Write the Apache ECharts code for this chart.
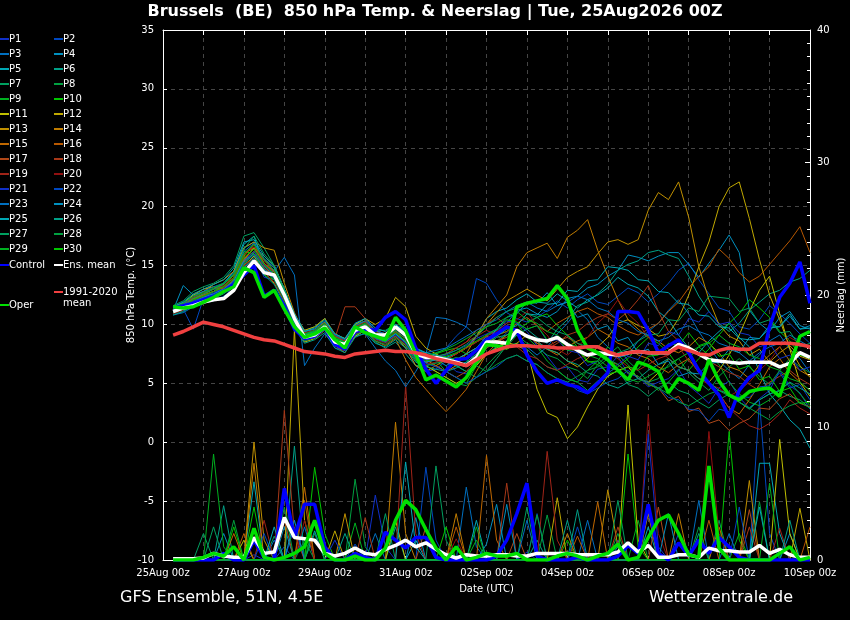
<!DOCTYPE html>
<html>
<head>
<meta charset="utf-8">
<script src="https://cdn.jsdelivr.net/npm/echarts@6/dist/echarts.min.js"></script>
<style>
html,body{margin:0;padding:0;background:#000;}
#chart{width:850px;height:620px;}
</style>
</head>
<body>
<div id="chart"></div>
<script>
// forecast hours (6-hourly, 25Aug 06z .. 10Sep 00z)
const HOURS = [6,12,18,24,30,36,42,48,54,60,66,72,78,84,90,96,
  102,108,114,120,126,132,138,144,150,156,162,168,174,180,186,192,
  198,204,210,216,222,228,234,240,246,252,258,264,270,276,282,288,
  294,300,306,312,318,324,330,336,342,348,354,360,366,372,378,384];
const X_LABELS = ['25Aug 00z','27Aug 00z','29Aug 00z','31Aug 00z','02Sep 00z','04Sep 00z','06Sep 00z','08Sep 00z','10Sep 00z'];

// main lines, 850 hPa temperature (°C)
const CTRL_T = [11.4,11.6,11.8,12.1,12.4,12.8,13.4,14.2,15.0,12.4,12.9,11.6,9.6,8.8,9.0,9.7,
  8.3,7.9,9.4,9.6,9.5,10.6,11.1,10.4,8.0,6.2,5.0,6.1,7.0,7.1,7.8,8.7,
  9.2,9.8,9.5,7.4,6.0,5.0,5.3,4.9,4.7,4.2,5.0,5.9,11.1,11.1,11.0,9.5,
  7.6,8.2,8.7,7.6,6.1,5.0,4.0,2.1,4.4,5.5,6.1,9.8,12.3,13.5,15.3,11.8];
const MEAN_T = [11.1,11.4,11.6,11.9,12.1,12.2,12.9,14.4,15.4,14.4,14.2,12.5,10.5,8.9,9.1,9.8,
  8.5,8.3,9.5,9.8,9.1,9.1,9.8,9.1,7.5,7.2,7.2,7.0,6.8,6.5,7.2,8.5,
  8.5,8.4,9.5,9.0,8.7,8.6,8.9,8.3,7.8,7.4,7.6,7.5,7.4,7.6,7.7,7.6,
  7.6,7.6,8.3,8.0,7.5,7.0,6.9,6.8,6.7,6.8,6.8,6.8,6.4,6.7,7.6,7.2];
const OPER_T = [11.5,11.4,11.5,11.9,12.3,12.8,13.2,14.8,14.4,12.3,12.9,11.3,9.8,8.9,9.2,9.7,
  8.7,8.0,9.8,9.3,9.0,8.7,10.6,9.5,7.5,5.3,5.7,5.2,4.7,5.5,6.8,8.3,
  8.2,8.0,11.5,11.8,12.0,12.2,13.3,12.2,9.5,8.0,7.6,7.0,6.1,5.3,6.8,6.5,
  6.0,4.2,5.4,5.0,4.4,7.0,5.2,4.0,3.6,4.3,4.5,4.6,3.9,6.5,9.0,9.4];
const CLIM_T = [9.1,9.4,9.8,10.2,10.0,9.8,9.5,9.2,8.9,8.7,8.6,8.3,8.0,7.7,7.6,7.5,
  7.3,7.2,7.5,7.6,7.7,7.8,7.7,7.7,7.6,7.4,7.1,6.9,6.7,6.5,7.0,7.5,
  7.8,8.1,8.2,8.2,8.1,8.1,8.0,8.0,8.0,8.1,8.1,7.7,7.4,7.6,7.7,7.6,
  7.6,7.6,8.1,7.8,7.5,7.4,7.8,8.0,7.9,7.9,8.4,8.4,8.4,8.4,8.3,8.1];

// main lines, precipitation (mm / 6h)
const CTRL_R = [0,0,0,0,0,0.5,0,0,1.5,0.2,0,5.4,1.7,4.2,4.2,1.0,
  0,0,0.5,0.2,0,2.1,1.5,0.9,1.7,1.7,0.2,0,0,0,0,0,
  0.3,1.5,3.5,5.8,0.3,0,0,0,0.2,0,0,0,0.3,1.1,0.5,4.2,
  0.5,0,1.3,0.3,1.5,0.5,1.7,1.0,0.2,0,0,0,0,0,0,0];
const MEAN_R = [0.1,0.1,0.1,0.15,0.5,0.3,0.2,0.2,1.7,0.5,0.6,3.2,1.7,1.6,1.5,0.5,
  0.3,0.5,0.9,0.5,0.4,0.8,1.1,1.5,1.0,1.3,0.8,0.4,0.15,0.4,0.3,0.3,
  0.4,0.4,0.3,0.3,0.5,0.5,0.5,0.5,0.4,0.4,0.4,0.4,0.6,1.3,0.6,1.1,
  0.2,0.2,0.4,0.4,0.2,0.9,0.7,0.7,0.6,0.6,1.1,0.5,0.8,0.4,0.2,0.2];
const OPER_R = [0,0,0,0.2,0.5,0.3,1.0,0,2.4,0.2,0,0.2,0.5,1.0,3.0,0.5,
  0,0,0.3,0,0,0.9,3.0,4.5,3.8,2.3,0.9,0,1.0,0,0.2,0.5,
  0.3,0.3,0.5,0,0,0,0.3,0.5,0.3,0,0.3,0.5,1.2,0,0.2,1.7,
  3.0,3.4,2.0,0.4,0.2,7.1,0.9,0,0,0,0,0,0.5,1.0,0,0.2];

// perturbations, temperature
const P01_T = [11.0,11.3,11.8,12.0,12.3,12.1,13.5,15.2,16.0,14.0,13.8,12.0,10.0,8.5,9.0,9.6,
  8.0,7.8,9.2,9.5,8.8,8.5,9.0,8.0,6.5,6.0,6.2,6.9,6.0,5.8,6.8,8.0,
  8.5,9.3,10.1,9.4,8.2,7.3,6.2,6.4,5.3,5.1,6.2,6.4,7.3,5.8,5.6,4.7,
  5.1,5.4,6.2,4.8,4.1,3.3,4.6,5.2,3.8,2.9,3.7,4.4,6.1,4.8,4.2,2.8];
const P02_T = [11.5,11.8,12.2,12.5,12.8,13.0,13.8,15.5,16.5,15.0,14.5,13.0,10.5,9.0,9.5,10.0,
  9.0,8.5,10.0,10.5,9.5,9.0,9.8,9.5,8.0,7.0,7.5,8.0,9.0,9.8,13.9,13.5,
  12.1,11.0,10.5,10.2,10.6,11.2,12.0,11.4,12.1,12.6,11.9,11.7,12.4,13.1,12.7,11.9,
  12.6,13.5,14.6,15.2,13.8,12.6,11.4,11.1,9.8,9.6,10.4,11.6,10.9,10.1,9.2,8.4];
const P03_T = [10.8,11.0,11.5,11.8,12.0,12.4,13.0,14.8,15.8,14.5,14.5,15.7,14.2,6.5,8.0,9.2,
  8.2,7.8,9.0,9.2,8.0,6.9,6.1,4.7,6.0,7.5,10.6,10.5,10.2,9.8,9.0,8.5,
  8.0,8.6,9.1,8.1,7.4,8.1,9.2,10.1,11.2,10.4,8.9,8.1,7.2,7.4,8.6,9.4,
  10.1,11.2,12.1,10.9,9.4,8.1,6.9,6.1,5.4,6.6,7.4,8.6,9.1,7.9,7.1,5.9];
const P04_T = [11.2,13.3,12.5,12.3,12.8,13.5,14.5,16.5,17.0,15.5,14.5,12.5,10.5,9.2,9.4,10.2,
  8.8,8.5,9.8,10.0,9.5,9.0,10.0,9.5,8.0,7.5,7.0,6.5,7.0,7.5,8.0,9.0,
  9.5,10.1,11.2,11.4,10.9,10.6,11.1,12.2,12.4,13.1,13.4,14.1,14.6,15.9,15.7,15.4,
  15.8,16.1,16.1,15.1,14.0,15.2,16.3,17.6,16.1,11.2,10.1,9.4,10.6,11.1,9.9,9.6];
const P05_T = [11.4,11.8,12.5,12.8,13.0,13.5,14.5,16.8,17.5,15.0,14.0,12.5,10.0,8.8,9.2,9.8,
  8.6,8.4,9.5,9.8,9.0,8.8,9.2,8.5,7.0,6.8,7.0,7.2,7.5,8.0,9.0,10.5,
  11.1,11.4,12.1,12.6,11.9,11.8,12.6,12.0,11.4,12.1,12.5,13.1,14.0,13.4,13.1,12.4,
  11.1,10.4,9.1,8.0,7.6,8.6,9.4,10.1,8.9,8.1,6.0,4.1,3.1,1.9,1.1,-0.5];
const P06_T = [10.9,11.2,11.7,12.0,12.5,13.0,13.8,15.5,16.5,15.5,14.8,12.8,10.5,9.0,9.0,9.5,
  8.5,8.0,9.0,9.5,8.5,8.0,8.5,7.5,6.5,6.5,6.8,7.0,6.5,6.0,6.5,7.5,
  8.1,8.4,9.1,9.6,8.9,8.4,9.6,10.4,11.6,11.9,12.6,13.4,14.6,15.1,15.4,16.1,
  16.3,15.9,15.6,14.1,12.4,11.1,10.1,9.4,10.1,11.2,11.9,12.6,12.9,13.6,13.9,14.6];
const P07_T = [11.6,12.0,12.8,13.2,13.5,14.0,15.0,17.5,17.8,16.5,15.0,13.0,10.8,9.5,9.8,10.5,
  9.0,8.8,10.0,10.3,9.5,9.5,10.0,9.0,7.5,7.0,7.5,7.0,6.5,6.0,5.5,6.0,
  7.1,8.2,8.4,7.9,7.1,6.4,6.1,5.4,5.1,4.4,5.2,5.6,6.1,4.9,4.6,3.9,
  4.6,5.1,4.4,4.1,3.4,2.9,3.6,4.1,3.4,2.8,3.6,4.1,4.4,3.9,3.6,2.9];
const P08_T = [11.0,11.4,12.0,12.2,12.6,12.8,13.5,15.0,16.2,14.8,14.0,12.2,10.0,8.6,9.0,9.8,
  8.5,8.0,9.5,10.0,9.0,8.8,9.5,8.5,7.0,6.5,6.0,5.5,5.0,4.8,5.5,6.5,
  7.4,8.1,9.1,8.4,8.1,7.4,7.1,6.4,6.1,5.4,6.6,7.4,8.1,6.9,6.1,5.1,
  5.4,6.6,7.1,5.9,5.1,4.4,5.6,6.4,7.1,6.4,5.6,4.9,6.1,7.1,6.4,5.9];
const P09_T = [11.3,11.6,12.2,12.5,13.0,13.2,14.0,16.0,16.8,15.2,14.2,12.6,10.2,9.2,9.3,10.0,
  8.8,8.2,9.8,10.2,9.2,9.0,9.6,9.0,7.8,7.5,7.0,6.0,5.5,5.0,6.5,8.0,
  9.1,9.4,10.1,8.9,8.1,6.9,6.1,5.4,5.1,6.1,6.9,8.1,7.4,6.6,5.4,5.1,
  4.4,5.1,6.1,7.1,8.1,7.4,6.6,5.1,4.1,3.4,3.1,3.6,4.4,5.1,4.1,3.1];
const P10_T = [11.2,11.5,12.0,12.4,12.8,13.2,14.2,16.2,16.0,14.2,13.8,12.4,10.4,9.0,9.4,10.0,
  8.8,8.4,9.6,10.0,9.2,9.0,9.4,8.8,7.5,7.2,7.5,7.8,8.0,7.5,7.0,8.0,
  8.6,9.1,9.4,10.1,10.6,10.9,9.9,9.1,8.1,6.9,6.6,5.9,6.4,7.1,8.1,8.9,
  8.4,7.6,6.4,6.1,7.1,7.9,9.1,10.1,10.9,12.1,11.4,10.6,9.4,8.6,7.4,7.1];
const P11_T = [11.0,11.2,11.8,12.0,12.4,12.8,13.5,15.0,15.8,14.5,13.5,12.0,10.2,8.5,8.8,9.5,
  8.2,7.8,9.0,9.5,8.8,8.5,9.0,8.2,7.0,6.5,6.0,5.5,5.0,5.5,6.5,7.5,
  8.0,8.5,8.2,7.8,4.5,2.5,2.1,0.3,1.3,3.0,4.5,5.6,6.1,6.4,5.4,5.1,
  5.9,7.1,6.4,6.1,5.4,5.1,6.1,7.4,9.1,11.1,12.9,14.1,10.9,7.9,5.1,3.9];
const P12_T = [11.5,11.8,12.5,13.0,13.2,13.0,13.8,15.5,16.5,15.8,15.0,13.0,10.8,9.5,9.8,10.5,
  9.2,8.8,10.0,10.5,10.0,10.5,12.3,11.5,9.0,8.0,7.5,7.0,7.5,8.0,8.5,9.0,
  8.6,7.9,8.4,9.1,8.4,7.9,7.6,6.9,6.4,7.1,8.1,8.9,10.1,10.4,9.9,9.6,
  9.0,9.2,10.5,12.5,14.9,17.0,20.0,21.6,22.1,19.0,15.5,12.5,10.4,8.0,6.5,5.5];
const P13_T = [11.2,11.6,12.3,12.8,13.4,13.8,14.5,16.5,17.0,16.5,16.3,13.5,11.0,9.2,9.0,9.5,
  8.5,8.0,9.5,10.0,9.0,8.5,9.0,8.0,6.5,6.0,6.5,7.0,7.5,8.0,9.0,10.0,
  11.0,12.0,12.5,13.0,12.5,12.0,13.0,14.0,14.5,14.9,16.0,17.0,17.2,16.8,17.2,19.7,
  21.2,20.6,22.1,19.1,14.9,12.1,10.0,9.0,8.6,7.4,7.9,6.8,7.6,8.2,7.3,7.0];
const P14_T = [11.4,11.7,12.2,12.6,13.0,13.4,14.2,16.0,16.5,15.2,14.5,12.8,10.6,9.4,9.6,10.2,
  9.0,8.6,9.8,10.3,9.5,9.2,9.8,9.0,7.5,7.0,6.5,6.0,6.5,7.5,9.0,10.5,
  11.5,12.5,14.9,16.1,16.5,16.9,15.6,17.4,18.0,18.9,16.3,14.1,12.1,10.4,9.6,8.9,
  8.6,7.9,7.6,8.1,8.9,8.4,7.6,6.4,6.1,5.4,6.6,7.4,8.1,6.9,6.1,5.6];
const P15_T = [11.0,11.3,11.9,12.2,12.5,13.0,13.5,15.5,16.2,15.0,14.0,12.2,10.0,8.7,9.0,9.6,
  8.2,7.6,9.2,9.6,8.6,8.2,8.8,7.0,5.5,4.5,3.5,2.6,3.5,4.5,6.0,7.5,
  8.4,9.1,9.6,8.9,8.6,7.9,7.4,8.1,8.6,8.9,9.6,9.1,8.4,8.1,7.4,7.1,
  6.4,5.9,6.6,7.1,5.9,4.9,4.1,2.9,2.4,3.6,4.9,6.4,7.1,5.9,5.1,4.4];
const P16_T = [11.3,11.6,12.1,12.5,12.8,13.2,14.0,15.8,16.8,15.5,14.8,12.8,10.4,9.0,9.3,10.0,
  8.7,8.3,9.6,10.0,9.0,8.6,9.2,8.5,7.2,6.8,7.0,7.2,7.0,7.5,8.0,8.5,
  9.1,9.4,10.1,10.6,9.9,9.4,10.1,10.6,11.1,11.4,10.9,10.6,9.9,9.4,9.1,9.6,
  10.1,11.1,11.9,13.1,14.1,14.9,16.4,15.6,14.4,13.6,14.1,15.1,16.1,17.1,18.3,16.1];
const P17_T = [11.0,11.4,12.0,12.3,12.6,13.0,13.6,15.3,16.0,14.8,14.0,12.3,10.1,8.8,9.1,9.7,
  8.4,8.0,9.4,9.8,8.9,8.6,9.3,8.6,7.2,6.8,6.5,6.0,5.5,6.0,7.0,8.0,
  8.6,8.9,9.6,9.1,8.4,8.1,8.6,8.9,8.4,7.9,7.6,6.9,6.6,5.9,5.6,4.9,
  4.6,3.5,3.9,2.6,2.9,1.6,1.9,1.0,1.6,2.0,2.9,2.8,3.7,4.1,3.3,3.0];
const P18_T = [11.1,11.5,12.0,12.4,12.8,13.1,13.8,15.6,16.4,15.2,14.4,12.6,10.3,9.0,9.2,9.8,
  8.8,11.5,11.5,10.5,9.0,8.7,9.4,8.8,7.4,7.0,7.2,7.5,8.0,8.5,9.5,10.0,
  10.6,9.9,9.6,8.9,8.6,7.9,8.4,9.1,9.4,10.1,10.6,10.9,10.4,11.1,12.1,13.3,
  11.1,9.4,8.6,7.9,7.6,6.9,6.4,5.9,5.6,4.9,4.4,5.1,5.6,6.1,5.4,4.9];
const P19_T = [11.3,11.7,12.3,12.7,13.0,13.3,14.0,16.0,16.6,15.4,14.6,12.9,10.7,9.3,9.5,10.1,
  9.0,8.6,9.8,10.2,9.4,9.0,9.6,9.0,7.8,7.4,7.0,7.5,8.0,8.5,9.0,9.5,
  9.1,8.4,8.1,7.4,7.1,6.4,6.1,6.6,7.1,7.4,8.1,7.6,7.1,6.4,6.1,6.6,
  7.1,7.4,8.1,6.9,6.1,4.9,4.1,2.9,2.1,1.4,1.1,1.6,2.4,3.6,2.9,2.4];
const P20_T = [10.9,11.2,11.8,12.1,12.4,12.7,13.4,15.0,15.6,14.4,13.6,12.0,9.9,8.6,8.9,9.5,
  8.2,7.9,9.2,9.6,8.7,8.4,9.0,8.3,7.0,6.6,6.8,7.0,7.5,8.0,8.5,9.0,
  9.4,10.1,10.4,11.1,9.9,9.1,7.9,7.4,8.1,8.9,10.1,10.9,12.1,10.9,10.1,8.9,
  7.9,7.1,6.4,6.1,5.4,4.9,4.6,3.9,4.4,5.1,6.1,6.9,8.1,8.9,8.4,7.9];
const P21_T = [11.2,11.5,12.0,12.3,12.7,13.0,13.7,15.4,16.2,15.0,14.2,12.5,10.3,8.9,9.2,9.8,
  8.6,8.2,9.4,9.8,9.0,8.7,9.2,8.6,7.3,7.0,7.2,7.4,7.8,8.2,8.8,9.2,
  9.6,10.3,10.1,9.6,9.9,8.6,8.7,7.8,7.6,6.5,6.9,5.8,6.6,7.3,7.0,8.4,
  8.2,9.4,9.1,10.5,10.2,11.1,10.0,10.2,9.3,9.1,8.1,8.4,7.1,7.4,6.1,6.4];
const P22_T = [11.0,11.3,9.6,12.2,12.6,12.9,13.6,15.2,15.9,14.6,13.9,12.2,10.1,8.7,9.0,9.6,
  8.3,8.0,9.3,9.7,8.8,8.5,9.1,8.4,7.1,6.7,6.4,6.0,5.5,5.0,5.5,6.0,
  6.4,7.1,7.4,6.9,6.6,5.9,5.4,5.1,4.4,4.1,4.6,5.1,5.4,6.1,5.4,5.1,
  4.6,3.8,3.6,2.8,2.7,1.8,2.8,2.6,3.9,3.8,4.7,4.8,5.9,4.6,4.9,3.6];
const P23_T = [11.4,11.7,12.4,12.8,13.2,13.5,14.3,16.2,16.9,15.6,14.8,13.0,10.8,9.4,9.6,10.3,
  9.1,8.7,9.9,10.3,9.5,9.2,9.8,9.2,7.9,7.6,7.8,8.0,8.5,9.0,9.5,10.0,
  10.4,11.1,11.6,11.9,11.4,11.1,11.6,11.9,12.4,12.1,11.4,11.1,10.4,10.1,9.4,9.1,
  8.6,8.9,9.6,9.9,9.4,9.1,8.4,8.1,7.6,6.9,7.6,8.1,8.4,9.1,8.6,8.1];
const P24_T = [11.1,11.4,11.9,12.3,12.6,13.0,13.7,15.4,16.0,14.7,14.0,12.4,10.2,8.8,9.1,9.7,
  8.4,8.1,9.3,9.7,8.9,8.6,9.2,8.5,7.2,6.8,7.0,6.8,6.5,6.8,7.5,8.5,
  9.6,10.6,10.9,11.9,11.8,12.7,11.6,11.9,10.6,10.9,9.6,9.9,8.6,8.9,7.6,7.9,
  6.6,6.9,5.6,5.9,5.8,6.7,6.8,7.9,7.6,8.9,8.8,9.9,9.8,10.7,9.6,9.9];
const P25_T = [11.5,11.9,12.6,13.0,13.4,13.8,14.8,17.0,17.2,15.8,14.9,13.0,10.9,9.4,9.7,10.4,
  9.2,8.8,10.1,10.5,9.7,9.4,10.0,9.3,8.0,7.6,7.4,7.2,7.0,7.5,8.0,8.5,
  9.0,9.6,9.9,10.9,10.8,11.7,11.8,12.9,12.8,13.7,13.8,14.9,14.8,14.6,13.8,13.7,
  12.8,12.7,11.8,11.7,10.8,10.7,9.8,9.7,8.8,8.7,8.8,9.7,9.8,10.9,9.6,9.7];
const P26_T = [10.8,11.1,11.6,11.9,12.2,12.6,13.2,14.8,15.6,14.2,13.4,11.8,9.7,8.4,8.7,9.3,
  8.0,7.6,8.9,9.3,8.4,8.1,8.7,8.0,6.8,6.4,6.2,6.0,6.3,6.8,7.5,8.2,
  8.9,9.1,9.6,8.9,8.6,7.9,7.6,6.9,6.6,5.9,5.6,4.9,4.6,5.1,5.4,6.1,
  6.6,7.1,6.4,6.1,5.4,5.1,4.4,4.1,3.4,2.9,3.6,4.1,4.4,5.1,4.6,4.1];
const P27_T = [11.3,11.6,12.2,12.6,13.0,13.4,14.3,16.4,17.5,16.0,15.0,13.0,10.6,9.1,9.4,10.0,
  8.7,8.3,9.6,10.0,9.2,8.9,9.5,8.8,7.5,7.1,7.3,7.5,7.8,8.3,9.0,9.8,
  10.6,11.1,11.4,10.9,10.6,9.9,9.4,9.1,8.4,8.1,7.4,7.1,7.6,7.9,8.6,9.1,
  9.2,10.4,10.3,11.4,11.1,12.4,12.3,12.2,11.1,11.4,10.1,10.4,9.3,9.4,8.1,8.4];
const P28_T = [11.0,11.3,11.9,12.2,12.5,12.9,13.5,15.2,16.0,14.6,13.8,12.1,9.9,8.6,8.9,9.6,
  8.3,7.9,9.1,9.5,8.6,8.3,8.9,8.2,6.9,6.5,6.7,6.9,7.2,7.0,6.5,6.0,
  6.6,7.1,7.4,6.9,6.6,5.9,5.4,5.1,5.6,6.1,6.4,7.1,6.6,5.9,5.6,4.9,
  4.6,4.1,3.4,3.1,3.6,4.1,4.4,3.9,3.4,2.9,2.4,1.9,2.6,3.1,3.4,2.9];
const P29_T = [11.4,11.8,12.4,12.7,13.1,13.5,14.2,16.0,16.8,15.5,14.6,12.8,10.5,9.2,9.5,10.1,
  8.9,8.5,9.7,10.1,9.3,9.0,9.7,9.0,7.7,7.3,7.6,7.9,8.3,8.8,9.3,9.8,
  10.1,10.6,11.1,10.4,10.1,9.4,9.1,8.4,8.1,7.4,7.1,6.4,6.1,5.4,5.1,5.6,
  6.1,6.4,7.1,7.6,8.1,8.4,9.1,8.4,8.1,7.4,7.1,6.4,6.1,5.4,5.1,4.4];
const P30_T = [11.2,11.5,12.1,12.4,12.8,13.2,13.9,15.7,16.4,15.1,14.3,12.5,10.3,8.9,9.2,9.9,
  8.6,8.2,9.5,9.9,9.0,8.7,9.3,8.6,7.3,6.9,7.1,7.3,7.6,8.1,8.6,9.1,
  9.6,10.4,10.2,9.6,9.9,8.7,8.9,7.8,7.9,6.8,6.9,5.8,6.0,6.4,6.2,7.3,
  7.4,8.4,8.2,9.3,8.2,8.5,7.3,7.5,6.2,6.5,5.3,5.6,4.3,4.6,3.3,3.4];

// perturbations, precipitation (mm / 6h)
const P01_R = [0,0,0,0,0,0,0,0,0.4,0,0,0,2.5,0,0,0, 0,0,0,0,4.9,1.0,0,0,0,0,0,0,0,0,0,0,
  0,0,0,0.6,0,0,0,0,0,0,0,0,1.5,0,0,0, 0,0,2.0,0.5,0,0,0,0,0,0,0,0,0,0,0,0];
const P02_R = [0,0,0,0,0,0,0,0,0,0,0,1.0,0,0,0,0, 0,0,1.2,0,0,0,0,0,0,7.0,1.5,0,0,0,0,0,
  0,0,0,0,3.5,0,0,0,0,0,0,0,0,0,0,0, 0,0,0,0,0,0,0,0,0,0,12.0,2.0,0,0,0,0];
const P03_R = [0,0,0,0,0,0,0,0,0,0,1.5,0,0,2.5,0,0, 0,0,0,0,2.0,0,0,0,0,0,0,0,0,5.5,1.0,0,
  0,0,0,0,0,0,0,0,0,3.0,0,0,0,0,0,0, 0,0,0,0,4.5,0,0,0,0,0,0,0,0,0,0,0];
const P04_R = [0,0,0,0,0,2.0,0,0,0,0,0,2.5,0,0,0,0, 0,0,0,0,0,0,0,0,3.2,0,0,0,0,0,0,1.2,
  4.2,0,0,0,0,0,0,0,0,0,0,0,1.0,0,0,0, 0,0,0,0,0,0,0,0,0,0,0,0,0,2.0,0,0];
const P05_R = [0,0,0,0,0,0,0,0,5.9,0,0,0,0,0,2.2,0, 0,0,0,0,0,0,0,0,1.5,0,0,0,0,0,3.0,0,
  0,0,0,0,0,0,0,0,0,0,0,0,0,0,0,2.5, 0,0,0,0,0,0,0,0,0,0,7.3,7.3,2.0,0,0,0];
const P06_R = [0,0,0,0,0,4.1,0,0,0,0,0,0,8.6,0,0,0, 0,0,0,0,0,0,2.5,0,0,0,0,0,0,0,0,0,
  0,0,0,0,1.5,0,0,0,3.8,0,0,0,0,0,0,0, 0,0,0,0,2.0,0,0,0,0,0,0,0,0,0,0,0];
const P07_R = [0,0,0,0,2.5,0,0,0,0,0,1.8,0,0,0,2.0,0, 0,0,0,0,0,0,0,0,0,0,7.1,1.5,0,0,0,0,
  0,0,0,4.0,0,0,0,0,0,0,0,0,0,0,0,0, 0,0,0,0,0,0,3.0,0,0,0,0,0,0,0,0,0];
const P08_R = [0,0,0,0,0,0,3.0,0,0,0,0,0,0,1.5,0,0, 0,0,6.1,1.0,0,0,0,0,0,0,0,0,0,0,0,0,
  0,0,0,0,0,3.4,0,0,0,0,0,0,2.0,0,0,0, 0,0,0,0,0,0,0,0,0,0,4.4,0,0,0,0,0];
const P09_R = [0,0,0,0,8.0,1.0,0,0,0,0,0,0,0,0,0,0, 0,0,2.8,0,0,0,0,0,0,0,0,0,0,0,2.5,0,
  0,0,0,0,0,0,0,0,0,0,0,0,0,0,3.0,0, 0,0,0,0,0,0,0,0,2.0,0,0,0,0,0,0,0];
const P10_R = [0,0,0,0,0,0,0,0,4.0,0,0,0,0,0,7.0,2.0, 0,0,0,0,0,0,0,0,0,0,0,2.5,0,0,0,0,
  0,0,0,0,0,0,0,1.5,0,0,0,0,0,0,0,0, 0,0,0,0,0,0,0,9.7,1.5,0,0,0,0,0,0,0];
const P11_R = [0,0,0,0,0,0,0,1.5,0,0,0,0,0,0,0,0, 0,0,0,0,0,0,3.0,0,0,0,0,0,0,0,0,0,
  0,0,0,0,0,0,0,0,0,0,0,0,0,11.7,1.5,0, 0,0,0,0,0,0,0,0,0,0,0,0,9.1,2.0,0,0];
const P12_R = [0,0,0,0,0,0,0,0,0,0,0,0,17.4,3.0,0,0, 2.2,0,0,0,0,0,0,0,0,0,0,0,0,0,0,0,
  0,0,0,0,0,0,4.7,0,0,0,0,0,0,0,0,3.5, 0,0,0,0,0,0,0,0,0,0,0,0,0,0,3.9,0];
const P13_R = [0,0,0,0,0,0,0,0,8.9,1.5,0,0,0,0,0,0, 0,3.5,0,0,0,0,0,0,0,0,0,0,0,0,0,0,
  0,0,0,0,0,0,0,0,0,0,0,5.3,1.0,0,0,0, 0,0,0,0,0,0,0,0,0,6.0,0,0,0,0,0,0];
const P14_R = [0,0,0,0,0,0,0,0,7.3,0,0,0,0,0,0,0, 0,0,0,0,0,0,10.4,2.0,0,0,0,0,3.5,0,0,0,
  0,0,0,0,0,0,0,2.0,0,0,0,0,0,0,0,0, 0,0,3.5,0,0,0,0,0,0,0,0,0,0,0,0,0];
const P15_R = [0,0,0,0,0,0,2.0,0,0,0,0,0,0,5.5,0,0, 0,0,0,0,0,0,0,0,0,0,0,0,0,0,0,7.9,
  1.5,0,0,0,0,0,0,0,0,0,4.4,0,0,0,0,0, 0,0,0,0,0,0,2.5,0,0,0,0,0,0,0,0,0];
const P16_R = [0,0,0,0,0,0,0,2.0,0,0,0,0,0,4.5,0,0, 0,0,0,0,0,0,0,0,0,0,0,0,2.5,0,0,0,
  0,0,0,0,0,0,0,0,1.8,0,0,0,0,0,0,0, 0,0,0,0,0,3.0,0,0,0,0,0,0,0,0,0,2.5];
const P17_R = [0,0,0,0,0,0,0,0,0,0,0,3.0,0,0,0,0, 0,0,0,0,0,0,0,0,0,2.5,0,0,0,0,0,0,
  0,0,2.0,0,0,0,0,0,0,0,0,0,0,0,0,0, 4.0,0,0,0,0,0,0,0,0,3.8,0,0,0,0,0,0];
const P18_R = [0,0,0,0,0,0,0,0,0,0,0,11.3,2.0,0,0,0, 0,0,0,3.2,0,0,0,0,0,0,0,0,0,0,0,0,
  0,5.8,0,0,0,0,0,0,0,0,0,0,2.5,0,0,0, 0,0,0,0,0,0,0,0,0,2.5,0,0,0,0,0,0];
const P19_R = [0,0,0,0,0,0,0,0,0,3.0,0,0,0,0,0,0, 0,0,0,0,0,0,0,13.2,2.0,0,0,0,0,0,0,0,
  0,0,0,0,0,8.2,1.5,0,0,0,0,0,0,0,0,0, 0,0,0,0,0,0,0,0,0,0,0,0,2.4,0,0,0];
const P20_R = [0,0,0,0,0,0,0,0,0,0,0,0,0,3.0,0,0, 0,0,0,0,0,0,0,0,0,0,0,0,1.6,0,0,0,
  0,0,0,0,0,0,0,0,0,0,0,0,0,0,0,11.0, 2.0,0,0,0,0,9.7,2.0,0,0,0,0,0,0,0,0,0];
const P21_R = [0,0,0,0,0,0,0,0,0,0,0,0,0,0,0,0, 1.5,0,0,0,0,0,0,0,0,0,0,0,0,0,0,0,
  0,0,0,0,0,0,0,0,0,0,0,0,0,0,0,9.5, 1.0,0,0,0,0,0,0,0,0,0,0,0,0,0,0,0];
const P22_R = [0,0,0,0,0,0,0,0,0,2.0,0,0,0,0,0,0, 0,0,0,0,0,0,0,0,0,0,0,0,0,0,0,0,
  0,0,0,0,0,0,0,0,2.5,0,0,0,0,0,0,0, 0,0,0,0,0,0,0,0,4.0,0,0,0,0,0,0,0];
const P23_R = [0,0,0,0,0,0,1.0,0,0,0,0,0,0,0,0,0, 0,0,0,0,0,0,0,0,0,0,0,0,0,0,0,0,
  0,0,0,3.0,0,0,0,0,0,0,0,0,0,0,0,0, 0,0,0,0,0,0,0,2.0,0,0,0,0,0,0,0,0];
const P24_R = [0,0,0,0,0,0,0,0,0,0,0,0,3.0,0,0,0, 0,0,0,0,0,0,0,0,0,0,0,0,0,0,0,0,
  0,4.2,0,0,0,0,0,0,0,0,0,0,0,0,0,0, 0,3.5,0,0,0,0,0,0,0,0,0,0,0,0,0,0];
const P25_R = [0,0,0,0,0,0,0,0,0,0,2.5,0,0,0,0,0, 0,0,0,0,0,0,0,7.4,1.0,0,0,0,0,0,0,0,
  0,0,0,0,0,0,0,0,0,0,0,0,0,0,0,0, 0,0,0,0,0,0,0,0,0,0,4.0,0,0,0,0,0];
const P26_R = [0,0,0,0,0,0,0,0,0,0,0,0,0,0,0,0, 0,2.0,0,0,0,0,0,0,0,0,0,0,0,0,0,0,
  0,0,0,0,0,0,0,3.0,0,0,0,0,0,0,0,0, 0,0,0,0,0,0,0,0,0,0,0,0,0,3.0,0,0];
const P27_R = [0,0,0,2.0,0,0,0,0,0,0,0,0,0,0,0,0, 0,0,0,0,0,3.5,0,0,0,0,0,0,0,0,0,0,
  0,0,0,0,0,0,0,0,0,0,0,0,4.5,0,0,0, 0,0,0,0,0,0,0,0,0,0,0,0,0,0,0,0];
const P28_R = [0,0,0,0,0,0,0,0,0,0,0,4.0,0,0,0,0, 0,0,0,0,0,0,0,0,0,0,0,0,0,0,0,0,
  0,0,0,0,3.4,0,0,0,0,0,0,0,0,0,0,0, 0,0,0,0,2.5,0,0,0,0,0,0,0,0,0,0,0];
const P29_R = [0,0,0,0,0,0,0,0,0,0,0,0,0,0,3.0,0, 0,0,0,0,0,0,0,0,0,0,0,0,0,0,1.5,0,
  0,0,0,0,0,0,0,0,0,0,0,0,0,0,0,0, 0,0,0,0,0,0,0,0,0,0,0,5.8,0,0,0,0];
const P30_R = [0,0,0,0,0,0,2.5,0,0,0,0,0,0,0,0,0, 0,0,0,0,0,0,0,0,0,0,0,0,0,0,0,0,
  0,0,0,0,0,0,0,0,0,0,0,0,0,8.0,1.0,0, 0,0,0,0,0,0,0,0,0,0,0,0,0,0,0,0];

const MEMBER_COLORS = ['#1030c8','#0048c0','#0070c0','#0090c0','#00a8b4','#00a088','#00a060','#00a040','#00b020','#00c400',
  '#c0c000','#c0a800','#c09000','#c07c00','#c06800','#b85800','#b04818','#a83818','#a02418','#901010',
  '#1030c8','#0048c0','#0070c0','#0090c0','#00a8b4','#00a088','#00a060','#00a040','#00b020','#00c400'];
const TEMP_MEMBERS = [P01_T,P02_T,P03_T,P04_T,P05_T,P06_T,P07_T,P08_T,P09_T,P10_T,
  P11_T,P12_T,P13_T,P14_T,P15_T,P16_T,P17_T,P18_T,P19_T,P20_T,
  P21_T,P22_T,P23_T,P24_T,P25_T,P26_T,P27_T,P28_T,P29_T,P30_T];
const RAIN_MEMBERS = [P01_R,P02_R,P03_R,P04_R,P05_R,P06_R,P07_R,P08_R,P09_R,P10_R,
  P11_R,P12_R,P13_R,P14_R,P15_R,P16_R,P17_R,P18_R,P19_R,P20_R,
  P21_R,P22_R,P23_R,P24_R,P25_R,P26_R,P27_R,P28_R,P29_R,P30_R];

const FONT = '"DejaVu Sans", sans-serif';

function pairs(arr) {
    return HOURS.map(function (h, i) { return [h, arr[i]]; });
}
function line(name, arr, axis, color, width) {
    return {
        type: 'line', name: name, yAxisIndex: axis, data: pairs(arr),
        symbol: 'none', silent: true, animation: false,
        lineStyle: {color: color, width: width},
        emphasis: {disabled: true}
    };
}

let series = [];
RAIN_MEMBERS.forEach(function (arr, k) {
    series.push(line('P' + (k + 1) + ' rr', arr, 1, MEMBER_COLORS[k], 1));
});
TEMP_MEMBERS.forEach(function (arr, k) {
    series.push(line('P' + (k + 1), arr, 0, MEMBER_COLORS[k], 1));
});
series.push(line('Control rr', CTRL_R, 1, '#0000ff', 3.5));
series.push(line('Ens. mean rr', MEAN_R, 1, '#ffffff', 3.5));
series.push(line('Oper rr', OPER_R, 1, '#00e000', 3.5));
series.push(line('Control', CTRL_T, 0, '#0000ff', 3.5));
series.push(line('Ens. mean', MEAN_T, 0, '#ffffff', 3.5));
series.push(line('Oper', OPER_T, 0, '#00e000', 3.5));
series.push(line('1991-2020 mean', CLIM_T, 0, '#f04040', 3.5));

// legend, drawn by hand in two columns
let legend = [];
function legendItem(x, y, color, label) {
    legend.push({type: 'line', shape: {x1: x, y1: y, x2: x + 9, y2: y}, style: {stroke: color, lineWidth: 2}, silent: true});
    legend.push({type: 'text', x: x + 9, y: y, silent: true,
        style: {text: label, fill: '#fff', font: '10px ' + FONT, verticalAlign: 'middle', textVerticalAlign: 'middle'}});
}
MEMBER_COLORS.forEach(function (c, k) {
    legendItem(k % 2 ? 54 : 0, 39 + Math.floor(k / 2) * 15, c, 'P' + (k + 1));
});
legendItem(0, 265, '#0000ff', 'Control');
legendItem(54, 265, '#ffffff', 'Ens. mean');
legendItem(54, 292, '#f04040', '1991-2020');
legend.push({type: 'text', x: 63, y: 303, silent: true,
    style: {text: 'mean', fill: '#fff', font: '10px ' + FONT, verticalAlign: 'middle', textVerticalAlign: 'middle'}});
legendItem(0, 305, '#00e000', 'Oper');

// title and footer
legend.push({type: 'text', x: 435, y: 12, silent: true,
    style: {text: 'Brussels  (BE)  850 hPa Temp. & Neerslag | Tue, 25Aug2026 00Z', fill: '#fff',
        font: 'bold 16px ' + FONT, align: 'center', textAlign: 'center', verticalAlign: 'middle', textVerticalAlign: 'middle'}});
legend.push({type: 'text', x: 120, y: 598, silent: true,
    style: {text: 'GFS Ensemble, 51N, 4.5E', fill: '#fff', font: '16px ' + FONT, verticalAlign: 'middle', textVerticalAlign: 'middle'}});
legend.push({type: 'text', x: 793, y: 598, silent: true,
    style: {text: 'Wetterzentrale.de', fill: '#fff', font: '16px ' + FONT, align: 'right', textAlign: 'right', verticalAlign: 'middle', textVerticalAlign: 'middle'}});

const chart = echarts.init(document.getElementById('chart'));
const axisText = {color: '#fff', fontSize: 10, fontFamily: FONT};
const gridLine = {show: true, lineStyle: {color: '#454545', type: [4, 4], width: 1}};

chart.setOption({
    backgroundColor: '#000',
    animation: false,
    grid: {left: 163, right: 40, top: 30, bottom: 60, containLabel: false, outerBoundsMode: 'none'},
    xAxis: [{
        type: 'value', min: 0, max: 384, interval: 24, position: 'bottom',
        name: 'Date (UTC)', nameLocation: 'middle', nameGap: 24, nameMoveOverlap: false,
        nameTextStyle: {color: '#fff', fontSize: 10, fontFamily: FONT},
        axisLine: {onZero: false, lineStyle: {color: '#fff', width: 1}},
        axisTick: {inside: true, length: 4, lineStyle: {color: '#fff'}},
        axisLabel: Object.assign({margin: 8, formatter: function (v) {
            return v % 48 === 0 ? X_LABELS[v / 48] : '';
        }}, axisText),
        splitLine: gridLine
    }, {
        type: 'value', min: 0, max: 384, interval: 24, position: 'top',
        axisLine: {onZero: false, lineStyle: {color: '#fff', width: 1}},
        axisTick: {inside: true, length: 5, lineStyle: {color: '#fff'}},
        axisLabel: {show: false},
        splitLine: {show: false}
    }],
    yAxis: [{
        type: 'value', min: -10, max: 35, interval: 5, position: 'left',
        name: '850 hPa Temp. (°C)', nameLocation: 'middle', nameGap: 27, nameRotate: 90, nameMoveOverlap: false,
        nameTextStyle: {color: '#fff', fontSize: 10, fontFamily: FONT},
        axisLine: {show: true, onZero: false, lineStyle: {color: '#fff', width: 1}},
        axisTick: {show: true, inside: true, length: 4, lineStyle: {color: '#fff'}},
        axisLabel: Object.assign({margin: 9}, axisText),
        splitLine: gridLine
    }, {
        type: 'value', min: 0, max: 40, interval: 10, position: 'right',
        name: 'Neerslag (mm)', nameLocation: 'middle', nameGap: 26, nameRotate: 90, nameMoveOverlap: false,
        nameTextStyle: {color: '#fff', fontSize: 10, fontFamily: FONT},
        axisLine: {show: true, onZero: false, lineStyle: {color: '#fff', width: 1}},
        axisTick: {show: true, inside: true, length: 5, lineStyle: {color: '#fff'}},
        minorTick: {show: true, splitNumber: 10, length: 3, lineStyle: {color: '#fff'}},
        axisLabel: Object.assign({margin: 7}, axisText),
        splitLine: {show: false}
    }],
    graphic: {elements: legend},
    series: series
});
</script>
</body>
</html>
